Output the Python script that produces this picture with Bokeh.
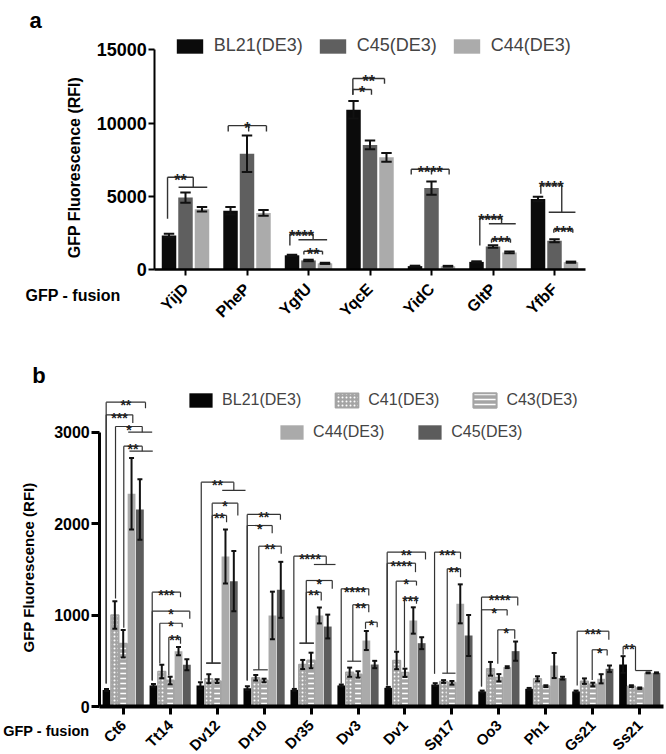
import math
from bokeh.plotting import figure
from bokeh.models import Range1d, FixedTicker, Legend, LegendItem, Label, ColumnDataSource
from bokeh.layouts import column
from bokeh.core.properties import value
from bokeh.embed import file_html
from bokeh.resources import INLINE

FONT = "Liberation Sans"

# ---------------- panel a data ----------------
a_fusions = ["YijD", "PheP", "YgfU", "YqcE", "YidC", "GltP", "YfbF"]
a_strains = ["BL21(DE3)", "C45(DE3)", "C44(DE3)"]
a_colors = ["#0b0b0b", "#5f5f5f", "#ababab"]
a_bl21 = [2300, 4000, 950, 10900, 210, 500, 4800]
a_bl21_sd = [120, 250, 40, 600, 30, 40, 150]
a_c45 = [4900, 7900, 600, 8500, 5550, 1550, 1950]
a_c45_sd = [350, 1250, 50, 300, 450, 80, 100]
a_c44 = [4100, 3850, 400, 7650, 200, 1150, 480]
a_c44_sd = [150, 200, 40, 300, 30, 60, 40]
a_yticks = [0, 5000, 10000, 15000]

# significance brackets (slot units: 0 = first bar of the group)
a_brackets = [
    dict(cat=0, label="**", y=6290, x0=-0.09, y0=3450, x1=1.47, y1=5610, rg=(0.58, 2.32)),
    dict(cat=1, label="*", y=9820, x0=-0.14, y0=9420, x1=2.18, y1=9420, mid=1.1),
    dict(cat=2, label="****", y=2420, x0=-0.13, y0=1620, x1=1.28, y1=2010, rg=(0.39, 2.13)),
    dict(cat=2, label="**", y=1230, x0=0.72, y0=1005, x1=1.85, y1=1005),
    dict(cat=3, label="**", y=13040, x0=-0.04, y0=11930, x1=1.88, y1=12680),
    dict(cat=3, label="*", y=12290, x0=-0.04, y0=11930, x1=1.09, y1=11930),
    dict(cat=4, label="****", y=6840, x0=-0.23, y0=6480, x1=2.07, y1=6480, mid=1.0),
    dict(cat=5, label="****", y=3540, x0=0.2, y0=1620, x1=1.52, y1=3105, rg=(0.75, 2.38)),
    dict(cat=5, label="***", y=2052, x0=0.91, y0=1806, x1=2.06, y1=1806),
    dict(cat=6, label="****", y=5770, x0=0.17, y0=5160, x1=1.44, y1=3900, rg=(0.65, 2.27)),
    dict(cat=6, label="***", y=2735, x0=0.96, y0=2490, x1=2.11, y1=2490),
]

# ---------------- panel b data ----------------
b_fusions = ["Ct6", "Tt14", "Dv12", "Dr10", "Dr35", "Dv3", "Dv1", "Sp17", "Oo3", "Ph1", "Gs21", "Ss21"]
b_strains = ["BL21(DE3)", "C41(DE3)", "C43(DE3)", "C44(DE3)", "C45(DE3)"]
b_bl21 = [180, 230, 230, 200, 182, 230, 204, 240, 164, 193, 164, 459]
b_bl21_sd = [10, 15, 35, 20, 10, 10, 10, 15, 10, 10, 10, 91]
b_c41 = [1000, 383, 303, 314, 459, 375, 503, 273, 412, 303, 277, 222]
b_c41_sd = [150, 73, 50, 30, 50, 50, 95, 15, 75, 27, 30, 10]
b_c43 = [685, 284, 277, 284, 503, 350, 368, 259, 314, 222, 240, 200]
b_c43_sd = [150, 40, 20, 20, 85, 35, 45, 20, 40, 10, 20, 8]
b_c44 = [2325, 605, 1640, 995, 995, 721, 940, 1122, 430, 448, 303, 368]
b_c44_sd = [390, 45, 295, 260, 87, 104, 144, 213, 10, 137, 50, 5]
b_c45 = [2153, 456, 1370, 1275, 874, 459, 692, 776, 605, 310, 412, 368]
b_c45_sd = [330, 60, 330, 306, 130, 40, 65, 224, 105, 15, 36, 5]
b_yticks = [0, 1000, 2000, 3000]

b_brackets = [
    dict(cat=0, label="**", y=3326, x0=-0.04, y0=251, x1=4.67, y1=3260),
    dict(cat=0, label="***", y=3188, x0=-0.04, y0=251, x1=3.15, y1=3097),
    dict(cat=0, label="*", y=3060, x0=1.08, y0=1180, x1=4.28, y1=2998, rg=(2.6, 5.47)),
    dict(cat=0, label="**", y=2845, x0=2.07, y0=860, x1=4.28, y1=2790, rg=(2.75, 5.54)),
    dict(cat=1, label="***", y=1249, x0=-0.15, y0=284, x1=3.24, y1=1195),
    dict(cat=1, label="*", y=1042, x0=-0.15, y0=284, x1=4.35, y1=959),
    dict(cat=1, label="*", y=910, x0=0.76, y0=470, x1=3.44, y1=867),
    dict(cat=1, label="**", y=757, x0=1.84, y0=339, x1=3.24, y1=685),
    dict(cat=2, label="**", y=2452, x0=0.1, y0=284, x1=4.0, y1=2361, rg=(2.61, 5.4)),
    dict(cat=2, label="*", y=2222, x0=1.41, y0=473, x1=4.48, y1=2088, lg=(0.69, 2.41)),
    dict(cat=2, label="**", y=2088, x0=1.41, y0=473, x1=3.13, y1=2014, lg=(0.69, 2.41)),
    dict(cat=3, label="**", y=2099, x0=-0.02, y0=284, x1=3.96, y1=2041),
    dict(cat=3, label="*", y=1978, x0=-0.02, y0=284, x1=2.97, y1=1894),
    dict(cat=3, label="**", y=1752, x0=1.37, y0=401, x1=4.05, y1=1669, lg=(0.69, 2.44)),
    dict(cat=4, label="****", y=1643, x0=-0.06, y0=200, x1=3.82, y1=1552, rg=(2.34, 4.93)),
    dict(cat=4, label="*", y=1377, x0=1.43, y0=692, x1=4.54, y1=1286, lg=(0.62, 2.34)),
    dict(cat=4, label="**", y=1249, x0=1.43, y0=692, x1=3.22, y1=1159, lg=(0.62, 2.34)),
    dict(cat=5, label="****", y=1286, x0=-0.01, y0=250, x1=3.29, y1=1213),
    dict(cat=5, label="**", y=1112, x0=1.38, y0=495, x1=3.29, y1=1031, lg=(0.71, 2.38)),
    dict(cat=5, label="*", y=921, x0=2.9, y0=849, x1=4.3, y1=867),
    dict(cat=6, label="**", y=1687, x0=-0.13, y0=230, x1=4.46, y1=1607),
    dict(cat=6, label="****", y=1566, x0=-0.13, y0=230, x1=3.26, y1=1468),
    dict(cat=6, label="*", y=1370, x0=0.95, y0=612, x1=3.38, y1=1322),
    dict(cat=6, label="***", y=1184, x0=1.94, y0=425, x1=3.38, y1=1123),
    dict(cat=7, label="***", y=1687, x0=-0.08, y0=357, x1=3.03, y1=1614),
    dict(cat=7, label="**", y=1505, x0=1.44, y0=364, x1=3.03, y1=1413, lg=(0.84, 2.43)),
    dict(cat=8, label="****", y=1195, x0=-0.08, y0=219, x1=4.26, y1=1104),
    dict(cat=8, label="*", y=1057, x0=-0.08, y0=219, x1=2.99, y1=995),
    dict(cat=8, label="*", y=838, x0=1.87, y0=467, x1=3.9, y1=740),
    dict(cat=10, label="***", y=823, x0=0.13, y0=230, x1=3.92, y1=729),
    dict(cat=10, label="*", y=620, x0=1.93, y0=290, x1=3.72, y1=557),
    dict(cat=11, label="**", y=656, x0=0.01, y0=565, x1=1.49, y1=393, rg=(1.49, 3.49)),
]

PAGE_W = 666


def bracket_geometry(brackets, n, step):
    segs = dict(x0=[], y0=[], x1=[], y1=[])
    txt = dict(x=[], y=[], text=[])

    def X(c, s):
        return c + (s - (n - 1) / 2) * step

    def add(xa, ya, xb, yb):
        segs["x0"].append(xa); segs["y0"].append(ya)
        segs["x1"].append(xb); segs["y1"].append(yb)

    for b in brackets:
        c = b["cat"]
        xa, xb = X(c, b["x0"]), X(c, b["x1"])
        add(xa, b["y"], xb, b["y"])
        add(xa, b["y"], xa, b["y0"])
        add(xb, b["y"], xb, b["y1"])
        if b.get("lg"):
            add(X(c, b["lg"][0]), b["y0"], X(c, b["lg"][1]), b["y0"])
        if b.get("rg"):
            add(X(c, b["rg"][0]), b["y1"], X(c, b["rg"][1]), b["y1"])
        if b.get("mid") is not None:
            add(X(c, b["mid"]), b["y"], X(c, b["mid"]), b["y1"])
        txt["x"].append((xa + xb) / 2)
        txt["y"].append(b["y"])
        txt["text"].append(b["label"])
    return segs, txt


def error_geometry(series, n, step, cap):
    d = dict(x=[], lo=[], hi=[], cl=[], cr=[])
    for j, (vals, sds) in enumerate(series):
        off = (j - (n - 1) / 2) * step
        for i, (v, s) in enumerate(zip(vals, sds)):
            x = i + off
            d["x"].append(x); d["lo"].append(v - s); d["hi"].append(v + s)
            d["cl"].append(x - cap); d["cr"].append(x + cap)
    return d


class Panel:
    """Maps page pixels onto a figure whose plot frame fills the whole canvas."""

    def __init__(self, top, height, cat0, unit, zero, vpp):
        self.top, self.height = top, height
        self.cat0, self.unit, self.zero, self.vpp = cat0, unit, zero, vpp

    def dx(self, px):
        return (px - self.cat0) / self.unit

    def dy(self, py):
        return (self.zero - py) * self.vpp

    def make(self):
        p = figure(width=PAGE_W, height=self.height, output_backend="svg", toolbar_location=None,
                   title=None, min_border=0,
                   x_range=Range1d(self.dx(0), self.dx(PAGE_W)),
                   y_range=Range1d(self.dy(self.top + self.height), self.dy(self.top)),
                   background_fill_color="white", border_fill_color="white")
        p.xgrid.visible = False
        p.ygrid.visible = False
        p.outline_line_color = None
        return p

    def label(self, p, px, py, text, size, **kw):
        p.add_layout(Label(x=self.dx(px), y=self.dy(py), text=text, text_font=FONT,
                           text_font_size=size, text_font_style="bold", text_color="black", **kw))

    def legend_loc(self, px_left, py_bottom):
        return (px_left, self.top + self.height - py_bottom)


def style_axes(p, ticks, ybounds, names, ysize, xsize, yw, xw, ytick, xtick, xstand):
    ya = p.yaxis[0]
    ya.fixed_location = -0.5
    ya.ticker = FixedTicker(ticks=ticks)
    ya.bounds = ybounds
    ya.axis_line_width = yw
    ya.major_tick_line_width = yw
    ya.major_tick_out = ytick
    ya.major_tick_in = 0
    ya.minor_tick_line_color = None
    ya.major_label_text_font = FONT
    ya.major_label_text_font_style = "bold"
    ya.major_label_text_font_size = ysize
    ya.major_label_text_color = "black"
    ya.major_label_standoff = 2
    xa = p.xaxis[0]
    xa.fixed_location = 0
    xa.ticker = FixedTicker(ticks=list(range(len(names))))
    xa.bounds = (-0.5, len(names) - 0.5)
    xa.major_label_overrides = {i: n for i, n in enumerate(names)}
    xa.major_label_orientation = math.pi / 4
    xa.axis_line_width = xw
    xa.major_tick_line_width = max(2, xw - 1)
    xa.major_tick_out = xtick
    xa.major_tick_in = 0
    xa.minor_tick_line_color = None
    xa.major_label_text_font = FONT
    xa.major_label_text_font_style = "bold"
    xa.major_label_text_font_size = xsize
    xa.major_label_text_color = "black"
    xa.major_label_standoff = xstand


# ================= panel a =================
A = Panel(top=0, height=350, cat0=185, unit=61.5, zero=268.7, vpp=5000 / 73.1)
pa = A.make()
style_axes(pa, a_yticks, (0, 15000), a_fusions, "18px", "16px", 2, 2.5, 6, 6, 11)

a_step, a_width = 0.268, 0.2355
a_series = [(a_bl21, a_bl21_sd), (a_c45, a_c45_sd), (a_c44, a_c44_sd)]
a_renderers = []
for j, (vals, _) in enumerate(a_series):
    off = (j - 1) * a_step
    src = ColumnDataSource(dict(x=[i + off for i in range(len(vals))], top=vals))
    r = pa.vbar(x="x", top="top", width=a_width, bottom=0, source=src,
                fill_color=a_colors[j], line_color=None)
    a_renderers.append(r)

ea = ColumnDataSource(error_geometry(a_series, 3, a_step, 0.085))
pa.segment(x0="x", y0="lo", x1="x", y1="hi", source=ea, line_color="#111111", line_width=2)
pa.segment(x0="cl", y0="hi", x1="cr", y1="hi", source=ea, line_color="#111111", line_width=2)
pa.segment(x0="cl", y0="lo", x1="cr", y1="lo", source=ea, line_color="#111111", line_width=2)

sa, ta = bracket_geometry(a_brackets, 3, a_step)
pa.segment(x0="x0", y0="y0", x1="x1", y1="y1", source=ColumnDataSource(sa),
           line_color="#333333", line_width=1.4)
pa.text(x="x", y="y", text="text", source=ColumnDataSource(ta), text_align="center",
        text_baseline="alphabetic", y_offset=3, text_font=value(FONT),
        text_font_size="16px", text_font_style="bold", text_color="#222222")

leg_a = Legend(items=[LegendItem(label=a_strains[j], renderers=[a_renderers[j]]) for j in range(3)],
               location=A.legend_loc(172.7, 56), orientation="horizontal",
               glyph_width=33, glyph_height=18, label_standoff=8, spacing=13, padding=0, margin=0,
               label_height=18, label_text_font=FONT, label_text_font_size="18px",
               border_line_alpha=0, background_fill_alpha=0)
pa.add_layout(leg_a)

A.label(pa, 29, 20, "a", "22px", text_align="left", text_baseline="alphabetic")
A.label(pa, 73.7, 167, "GFP Fluorescence (RFI)", "16px", text_align="center",
        text_baseline="middle", angle=math.pi / 2)
A.label(pa, 25, 295, "GFP - fusion", "16px", text_align="left", text_baseline="middle")

# ================= panel b =================
B = Panel(top=350, height=404, cat0=122.7, unit=46.96, zero=706, vpp=1000 / 91.5)
pb = B.make()
style_axes(pb, b_yticks, (0, 3000), b_fusions, "16px", "15px", 3, 4, 8, 8, 8)

b_step, b_width = 0.1778, 0.166
b_series = [(b_bl21, b_bl21_sd), (b_c41, b_c41_sd), (b_c43, b_c43_sd),
            (b_c44, b_c44_sd), (b_c45, b_c45_sd)]
b_styles = [
    dict(fill_color="#050505", line_color=None),
    dict(fill_color="#a4a4a4", line_color="#a4a4a4", line_width=1.5,
         hatch_pattern="dot", hatch_color="white", hatch_scale=4, hatch_weight=1.5),
    dict(fill_color="#a4a4a4", line_color="#a4a4a4", line_width=2,
         hatch_pattern="horizontal_line", hatch_color="white", hatch_scale=5, hatch_weight=1.5),
    dict(fill_color="#aaaaaa", line_color=None),
    dict(fill_color="#5c5c5c", line_color=None),
]
b_renderers = []
for j, (vals, _) in enumerate(b_series):
    off = (j - 2) * b_step
    src = ColumnDataSource(dict(x=[i + off for i in range(len(vals))], top=vals))
    r = pb.vbar(x="x", top="top", width=b_width, bottom=0, source=src, **b_styles[j])
    b_renderers.append(r)

eb = ColumnDataSource(error_geometry(b_series, 5, b_step, 0.053))
pb.segment(x0="x", y0="lo", x1="x", y1="hi", source=eb, line_color="#111111", line_width=2)
pb.segment(x0="cl", y0="hi", x1="cr", y1="hi", source=eb, line_color="#111111", line_width=2)
pb.segment(x0="cl", y0="lo", x1="cr", y1="lo", source=eb, line_color="#111111", line_width=2)

sb, tb = bracket_geometry(b_brackets, 5, b_step)
pb.segment(x0="x0", y0="y0", x1="x1", y1="y1", source=ColumnDataSource(sb),
           line_color="#333333", line_width=1.2)
pb.text(x="x", y="y", text="text", source=ColumnDataSource(tb), text_align="center",
        text_baseline="alphabetic", y_offset=3, text_font=value(FONT),
        text_font_size="14px", text_font_style="bold", text_color="#222222")

common_b = dict(orientation="horizontal", glyph_width=29, glyph_height=18, label_standoff=7,
                spacing=31, padding=0, margin=0, label_height=18, label_text_font=FONT,
                label_text_font_size="16px", border_line_alpha=0, background_fill_alpha=0)
leg_b1 = Legend(items=[LegendItem(label=b_strains[j], renderers=[b_renderers[j]]) for j in range(3)],
                location=B.legend_loc(186.1, 408.5), **common_b)
leg_b2 = Legend(items=[LegendItem(label=b_strains[j], renderers=[b_renderers[j]]) for j in range(3, 5)],
                location=B.legend_loc(277.1, 440.7), **common_b)
pb.add_layout(leg_b1)
pb.add_layout(leg_b2)

B.label(pb, 31.7, 375, "b", "22px", text_align="left", text_baseline="alphabetic")
B.label(pb, 28, 567, "GFP Fluorescence (RFI)", "15px", text_align="center",
        text_baseline="middle", angle=math.pi / 2)
B.label(pb, 2.7, 730, "GFP - fusion", "14.5px", text_align="left", text_baseline="middle")

layout = column(pa, pb, spacing=0)
open("out.html", "w").write(file_html(layout, INLINE))
